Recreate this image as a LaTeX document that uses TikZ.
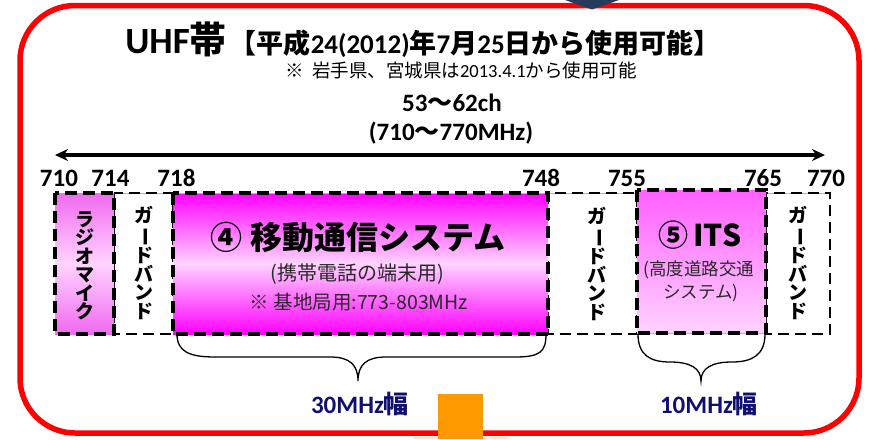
\documentclass[tikz,border=0pt]{standalone}
\usepackage{fontspec}
\usepackage{graphicx}
\setmainfont{Carlito}
\newfontfamily\jp{Noto Sans CJK JP}
\usetikzlibrary{arrows.meta}
\definecolor{frameRed}{RGB}{255,0,0}
\definecolor{triNavy}{RGB}{36,60,92}
\definecolor{labNavy}{RGB}{16,16,110}
\definecolor{boxOrange}{RGB}{255,153,0}
\definecolor{peach}{RGB}{255,228,190}
\definecolor{edgeOrange}{RGB}{255,170,40}
\definecolor{magA}{RGB}{255,0,255}
\definecolor{magL}{RGB}{255,212,255}
\definecolor{radA}{RGB}{240,105,240}
\definecolor{itsA}{RGB}{255,95,255}
\definecolor{subGray}{RGB}{40,40,40}
\newcommand{\myvbar}{\rotatebox[origin=c]{-90}{ー}}
\begin{document}
\begin{tikzpicture}[x=1pt,y=-1pt,
  bandbox/.style={rectangle, inner sep=0pt, outer sep=0pt, anchor=north west, draw=none},
  bandedge/.style={draw=black, line width=3.3pt, dash pattern=on 12pt off 6pt},
  guardedge/.style={draw=black, line width=2.6pt, dash pattern=on 11pt off 6pt},
  orangeedge/.style={draw=edgeOrange, line width=0.8pt},
  vtext/.style={align=center, font=\jp\bfseries\fontsize{19}{18.5}\selectfont},
  freq/.style={font=\bfseries\fontsize{25}{28}\selectfont},
  bracestyle/.style={draw=black, line width=1.3pt},
  widthlab/.style={font=\bfseries\fontsize{25}{28}\selectfont, text=labNavy}
]
\useasboundingbox (0,0) rectangle (874,439);
% frame
\draw[frameRed, line width=5.5pt, rounded corners=55pt] (20,5.5) rectangle (859,433);
\fill[triNavy] (565,0) -- (619,0) -- (592,9.5) -- cycle;
\fill[peach] (413,436.5) rectangle (508,439);
\fill[boxOrange] (438,394) rectangle (483,439);

% title
\node (title) at (423,40) {\bfseries\fontsize{37}{40}\selectfont UHF{\jp 帯}\hspace{3pt}\fontsize{27}{28}\selectfont{\jp 【平成}24(2012){\jp 年}7{\jp 月}25{\jp 日から使用可能】}};
\node (note) at (461,70) {\fontsize{18.5}{20}\selectfont{\jp ※\ \ 岩手県、宮城県は}2013.4.1{\jp から使用可能}};
\node (ch) at (452,103) {\bfseries\fontsize{25}{28}\selectfont 53{\jp 〜}62ch};
\node (mhz) at (451,133) {\bfseries\fontsize{25}{28}\selectfont (710{\jp 〜}770MHz)};

% axis
\coordinate (axL) at (55,155);
\coordinate (axR) at (825,155);
\draw[{Stealth[length=13pt,width=12pt]}-{Stealth[length=13pt,width=12pt]}, line width=3.2pt] (axL) -- (axR);

% frequency labels
\node[freq] (f710) at (59,178) {710};
\node[freq] (f714) at (110.5,178) {714};
\node[freq] (f718) at (176.5,178) {718};
\node[freq] (f748) at (541,178) {748};
\node[freq] (f755) at (627,178) {755};
\node[freq] (f765) at (763,178) {765};
\node[freq] (f770) at (826,178) {770};

% guard bands
\node[bandbox, fill=white, minimum width=59pt, minimum height=141pt] (g1) at (114,193) {};
\node[bandbox, fill=white, minimum width=89pt, minimum height=141pt] (g2) at (548,193) {};
\node[bandbox, fill=white, minimum width=64pt, minimum height=141pt] (g3) at (766,193) {};
\foreach \b in {g1,g2,g3}{
  \draw[orangeedge] (\b.north west) -- (\b.north east);
  \draw[guardedge] (\b.north west) rectangle (\b.south east);
}
\node[vtext] (g1t) at (143.5,263) {ガ\\\myvbar\\ド\\バ\\ン\\ド};
\node[vtext] (g2t) at (597,264) {ガ\\\myvbar\\ド\\バ\\ン\\ド};
\node[vtext] (g3t) at (798,263) {ガ\\\myvbar\\ド\\バ\\ン\\ド};

% coloured bands
\node[bandbox, minimum width=59pt, minimum height=141pt,
  top color=radA, bottom color=radA, middle color=magL] (radio) at (55,193) {};
\node[bandbox, minimum width=375pt, minimum height=141pt,
  top color=magA, bottom color=magA, middle color=magL] (mobile) at (173,193) {};
\node[bandbox, minimum width=129pt, minimum height=143pt,
  top color=itsA, bottom color=magL] (its) at (637,190) {};
\draw[orangeedge] (mobile.north west) -- (mobile.north east);
\draw[orangeedge] (its.south west) -- (its.south east);
\foreach \b in {radio,mobile,its}{
  \draw[bandedge] (\b.north west) rectangle (\b.south east);
}
\node[vtext] (radiot) at (85,266) {ラ\\ジ\\オ\\マ\\イ\\ク};
\node (mob1) at (358,237) {\jp\bfseries\fontsize{32}{34}\selectfont ④\ 移動通信システム};
\node (mob2) at (357,274) {\jp\fontsize{20}{22}\selectfont\color{subGray}(携帯電話の端末用)};
\node (mob3) at (359,302) {\jp\fontsize{19.5}{22}\selectfont\color{subGray}※ 基地局用:773-803MHz};
\node (its1) at (700,235) {\jp\bfseries\fontsize{30}{32}\selectfont ⑤\,ITS};
\node (its2) at (699,270) {\jp\fontsize{17.5}{20}\selectfont\color{subGray}(高度道路交通};
\node (its3) at (701,293) {\jp\fontsize{17.5}{20}\selectfont\color{subGray}システム)};

% braces
\draw[bracestyle] (177,334) .. controls (177,352) and (190,357) .. (215,357) -- (330,357)
  .. controls (350,357) and (358,365) .. (358,381)
  .. controls (358,365) and (366,357) .. (386,357) -- (515,357)
  .. controls (540,357) and (546,352) .. (546,334);
\draw[bracestyle] (638,334) .. controls (638,355) and (650,362) .. (670,362)
  .. controls (690,362) and (701,368) .. (701,381)
  .. controls (701,368) and (712,362) .. (732,362)
  .. controls (752,362) and (765,355) .. (765,334);

\node[widthlab] (w30) at (360,404) {30MHz{\jp 幅}};
\node[widthlab] (w10) at (709,404) {10MHz{\jp 幅}};
\end{tikzpicture}
\end{document}
